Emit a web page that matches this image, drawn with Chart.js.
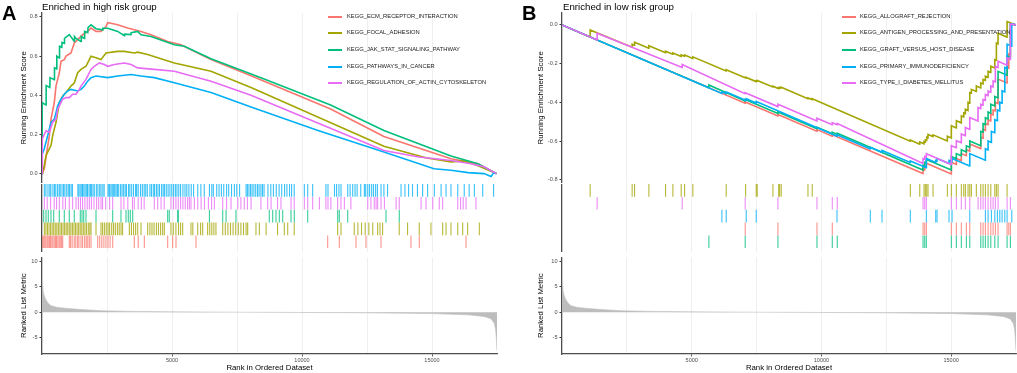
<!DOCTYPE html>
<html>
<head>
<meta charset="utf-8">
<script src="https://cdn.jsdelivr.net/npm/chart.js@4.4.1/dist/chart.umd.min.js"></script>
<style>
  body { margin: 0; background: #fff; font-family: 'Liberation Sans', Arial, sans-serif; }
  #wrap { position: relative; width: 1017px; height: 373px; overflow: hidden; background: #fff; }
  .pane { position: absolute; }
  .txt { position: absolute; white-space: nowrap; color: #000; line-height: 1; }
  .key { position: absolute; height: 2px; }
  .lab { position: absolute; white-space: nowrap; font-size: 5.8px; line-height: 1; color: #1a1a1a; }
</style>
</head>
<body>
<div id="wrap">
  <div class="pane" style="left:0;top:0"><canvas id="aTop" width="510" height="188"></canvas></div>
  <div class="pane" style="left:0;top:184px"><canvas id="aRug" width="510" height="68"></canvas></div>
  <div class="pane" style="left:0;top:252px"><canvas id="aMetric" width="510" height="121"></canvas></div>
  <div class="pane" style="left:508px;top:0"><canvas id="bTop" width="509" height="188"></canvas></div>
  <div class="pane" style="left:508px;top:184px"><canvas id="bRug" width="509" height="68"></canvas></div>
  <div class="pane" style="left:508px;top:252px"><canvas id="bMetric" width="509" height="121"></canvas></div>

  <div class="txt" style="left:2px;top:3.4px;font-size:20px;font-weight:bold">A</div>
  <div class="txt" style="left:522px;top:3.4px;font-size:20px;font-weight:bold">B</div>
  <div class="txt" style="left:42px;top:1.8px;font-size:9.7px">Enriched in high risk group</div>
  <div class="txt" style="left:563px;top:1.8px;font-size:9.7px">Enriched in low risk group</div>
  <div id="legA"></div>
  <div id="legB"></div>
</div>
<script>
// gene set colours (ggplot default hue palette)
const colRed = '#F8766D', colOlive = '#A3A500', colGreen = '#00BF7D', colBlue = '#00B0F6', colPink = '#E76BF3';

const rankMax = 17500;
const gridTicks = [2500, 5000, 7500, 10000, 12500, 15000];
const esTicksA = [0, 0.2, 0.4, 0.6, 0.8];
const esTicksB = [-0.8, -0.6, -0.4, -0.2, 0];
const metricTicks = [-5, 0, 5, 10];

const namesA = ['KEGG_ECM_RECEPTOR_INTERACTION', 'KEGG_FOCAL_ADHESION', 'KEGG_JAK_STAT_SIGNALING_PATHWAY', 'KEGG_PATHWAYS_IN_CANCER', 'KEGG_REGULATION_OF_ACTIN_CYTOSKELETON'];
const namesB = ['KEGG_ALLOGRAFT_REJECTION', 'KEGG_ANTIGEN_PROCESSING_AND_PRESENTATION', 'KEGG_GRAFT_VERSUS_HOST_DISEASE', 'KEGG_PRIMARY_IMMUNODEFICIENCY', 'KEGG_TYPE_I_DIABETES_MELLITUS'];

// ---------- A: running enrichment score ----------
const ecmRank = [0, 88, 282, 346, 474, 538, 667, 731, 859, 923, 1115, 1244, 1372, 1564, 1757, 1884, 2077, 2269, 2462, 2526, 2654, 2911, 3296, 3808, 4192, 4834, 5346, 6500, 8038, 11100, 13150, 15730, 16770, 17480];
const ecmES = [0, 0.025, 0.194, 0.278, 0.363, 0.447, 0.515, 0.574, 0.582, 0.60, 0.616, 0.667, 0.684, 0.709, 0.726, 0.743, 0.726, 0.726, 0.751, 0.771, 0.768, 0.76, 0.743, 0.726, 0.709, 0.675, 0.658, 0.582, 0.50, 0.33, 0.19, 0.076, 0.05, 0];

const focalRank = [0, 26, 88, 154, 218, 346, 410, 538, 667, 795, 923, 1115, 1244, 1372, 1500, 1692, 1884, 2077, 2269, 2462, 2911, 3167, 3551, 3680, 4064, 5090, 6500, 8038, 13150, 14800, 15730, 16240, 16770, 17480];
const focalES = [0, 0.008, 0.042, 0.093, 0.11, 0.143, 0.194, 0.262, 0.363, 0.397, 0.414, 0.447, 0.464, 0.515, 0.532, 0.548, 0.599, 0.591, 0.582, 0.616, 0.624, 0.624, 0.616, 0.62, 0.608, 0.565, 0.523, 0.44, 0.14, 0.08, 0.06, 0.065, 0.04, 0];

const jakRank = [0, 5, 154, 160, 300, 310, 474, 480, 560, 570, 667, 675, 760, 770, 859, 865, 1051, 1244, 1250, 1308, 1500, 1510, 1628, 1640, 1760, 1770, 1884, 2077, 2333, 2340, 2526, 2911, 3167, 3175, 3423, 3430, 3680, 3808, 4192, 5090, 5474, 6500, 8420, 11100, 13150, 15730, 16770, 17480];
const jakES = [0, 0.363, 0.35, 0.45, 0.44, 0.49, 0.48, 0.54, 0.535, 0.60, 0.59, 0.65, 0.645, 0.67, 0.665, 0.69, 0.71, 0.675, 0.70, 0.69, 0.675, 0.70, 0.69, 0.726, 0.72, 0.745, 0.76, 0.74, 0.734, 0.742, 0.742, 0.726, 0.704, 0.712, 0.71, 0.72, 0.726, 0.709, 0.70, 0.658, 0.65, 0.586, 0.49, 0.35, 0.22, 0.09, 0.05, 0];

const cancerRank = [0, 10, 88, 218, 346, 474, 603, 731, 859, 987, 1115, 1372, 1500, 1628, 1757, 1884, 2077, 2526, 2911, 3423, 3808, 4320, 5090, 6500, 8038, 10615, 13150, 15077, 15731, 16385, 17000, 17270, 17380, 17480];
const cancerES = [0, 0.10, 0.127, 0.194, 0.262, 0.278, 0.346, 0.38, 0.405, 0.422, 0.43, 0.422, 0.43, 0.447, 0.472, 0.49, 0.498, 0.49, 0.498, 0.506, 0.498, 0.49, 0.464, 0.414, 0.34, 0.22, 0.11, 0.025, 0.017, 0.005, 0, -0.015, 0.005, 0];

const actinRank = [0, 10, 154, 282, 410, 538, 603, 667, 795, 923, 1051, 1179, 1308, 1436, 1500, 1692, 1884, 2013, 2205, 2397, 2526, 2782, 3167, 3423, 3680, 4320, 5090, 6500, 8038, 13150, 14500, 15730, 16500, 17000, 17480];
const actinES = [0, 0.177, 0.219, 0.211, 0.262, 0.278, 0.329, 0.346, 0.38, 0.388, 0.388, 0.405, 0.405, 0.43, 0.447, 0.481, 0.532, 0.548, 0.565, 0.557, 0.548, 0.557, 0.565, 0.557, 0.54, 0.532, 0.523, 0.472, 0.40, 0.118, 0.085, 0.067, 0.05, 0.035, 0];

// A: gene set hits along the ranked list
const cancerHits = [90, 150, 230, 300, 340, 420, 480, 530, 600, 660, 700, 770, 830, 880, 950, 1010, 1060, 1120, 1170,
  1380, 1420, 1470, 1530, 1560, 1610, 1660, 1720, 1750, 1810, 1860, 1900, 1960, 2010, 2090, 2150, 2220, 2270, 2340, 2390,
  2540, 2580, 2610, 2660, 2720, 2760, 2800, 2850, 2900, 2950, 3020, 3080, 3140, 3200, 3250, 3330, 3380, 3450, 3520, 3600, 3640, 3700, 3790, 3860, 3930, 3990, 4050,
  4150, 4210, 4280, 4330, 4400, 4460, 4520, 4600, 4660, 4710, 4780, 4850, 4920, 4990, 5060, 5130, 5190, 5260, 5330, 5420, 5500, 5570, 5650, 5740, 5830,
  5990, 6110, 6240, 6440, 6530, 6590, 6720, 6810, 6900, 6990, 7100, 7180, 7290, 7400, 7490, 7600,
  7850, 7900, 7960, 8020, 8080, 8150, 8220, 8290, 8350, 8420, 8480, 8540, 8690, 8800, 8900, 9010, 9120, 9220, 9330, 9420, 9520, 9600, 9700,
  10090, 10220, 10410, 10920, 11000, 11250, 11330, 11420, 11500, 11760, 11850, 11950, 12040, 12120, 12260,
  12400, 12450, 12530, 12600, 12680, 12750, 12830, 12900, 13040, 13150, 13290, 13810, 13960, 14100, 14250, 14440,
  14640, 14830, 15090, 15350, 15540, 15730, 15990, 16240, 16430, 16630, 16950, 17370];
const actinHits = [90, 200, 330, 470, 560, 667, 800, 900, 1050, 1179, 1310, 1400, 1480, 1560, 1650, 1740, 1820, 1900, 2000, 2100, 2180, 2270, 2330, 2450, 2600, 2718,
  3040, 3150, 3300, 3480, 3550, 3700, 3820, 3930, 4320, 4450, 4580, 4700, 4960, 5060, 5150, 5240, 5330, 5420, 5510, 5600, 5670, 5730, 5860, 5990, 6120, 6250, 6400, 6520, 6630,
  6950, 7100, 7270, 7530, 7650, 7780, 7900, 8040, 8420, 8680, 8810, 9060, 9190, 9580, 9700, 10090, 10220, 10410, 10670, 10920, 11000, 11110, 11370, 11500, 11630, 11880,
  12530, 12650, 12780, 12850, 12910, 13040, 13170, 13620, 13740, 14580, 14770, 15030, 15280, 15410, 15990, 16100, 16200, 16310, 16690];
const jakHits = [65, 154, 242, 346, 450, 665, 858, 1050, 1242, 1473, 1538, 1604, 1692, 2077, 2719, 3038, 3231, 3319, 3396, 3488, 4834, 4896, 5219, 5242,
  6440, 6950, 7080, 7460, 8742, 8873, 9000, 9127, 9258, 9577, 9704, 10219, 11373, 11435, 11758, 13231, 13742];
const focalHits = [90, 150, 210, 270, 330, 390, 450, 510, 570, 630, 690, 750, 810, 870, 930, 990, 1050, 1110, 1170, 1230, 1290, 1350, 1410, 1470, 1530, 1590, 1650, 1710, 1780, 1840, 1885,
  2077, 2269, 2330, 2400, 2470, 2540, 2600, 2680, 2750, 2820, 2900, 2970, 3040, 3100, 3360, 3440, 3520, 3600, 3680, 3808, 4064, 4150, 4230, 4310, 4400, 4480, 4560, 4640, 4705,
  4960, 5050, 5150, 5250, 5330, 5410, 5730, 5800, 5990, 6100, 6180, 6370, 6450, 6530, 6610, 6690, 6950, 7050, 7150, 7250, 7350, 7450, 7550, 7650, 7750, 7850, 7910,
  8230, 8360, 8620, 9060, 9320, 9450, 9700, 11370, 11500, 12010, 12150, 12290, 12430, 12570, 12720, 12910, 13000, 13100, 13740, 14060, 14510, 14960, 15410, 15540, 15730, 15990, 16180, 16370, 16820];
const ecmHits = [26, 70, 110, 150, 200, 240, 290, 330, 380, 420, 470, 520, 560, 610, 660, 700, 750, 796, 1050, 1100, 1160, 1240, 1300, 1370, 1420, 1500, 1560, 1640, 1700, 1760, 1820, 1885,
  2142, 2220, 2300, 2380, 2460, 2540, 2620, 2719, 3550, 3700, 3936, 4834, 5025, 5154, 5923, 10988, 11435, 12077, 12461, 13038, 14192, 14511, 16307];

// ---------- B: running enrichment score ----------
const allograftRank = [0, 7059, 7062, 8321, 8324, 9825, 9828, 10416, 10419, 13914, 13917, 13979, 13982, 14041, 14044, 15005, 15008, 15198, 15201, 15390, 15393, 15584, 15587, 15715, 15718, 16139, 16142, 16228, 16231, 16317, 16320, 16421, 16424, 16525, 16528, 16614, 16617, 16702, 16705, 16806, 16809, 17154, 17157, 17219, 17222, 17281, 17284, 17500];
const allograftES = [0, -0.405, -0.398, -0.47, -0.463, -0.549, -0.541, -0.575, -0.568, -0.768, -0.745, -0.749, -0.73, -0.733, -0.715, -0.77, -0.71, -0.721, -0.69, -0.701, -0.665, -0.676, -0.645, -0.652, -0.615, -0.639, -0.58, -0.585, -0.54, -0.545, -0.51, -0.516, -0.49, -0.496, -0.46, -0.465, -0.44, -0.445, -0.40, -0.406, -0.28, -0.30, -0.22, -0.224, -0.15, -0.153, 0.005, 0];

const antigenRank = [0, 1082, 1085, 2701, 2704, 2794, 2797, 3346, 3349, 3989, 3992, 4271, 4274, 4591, 4594, 4722, 4725, 5042, 5045, 6327, 6330, 7075, 7078, 7484, 7487, 7522, 7525, 8128, 8131, 8348, 8351, 8386, 8389, 8448, 8451, 9478, 9481, 9643, 9646,
  13424, 13427, 13786, 13789, 13952, 13955, 14002, 14005, 14056, 14059, 14106, 14109, 14299, 14302, 14851, 14854, 15005, 15008, 15198, 15201, 15390, 15393, 15483, 15486, 15545, 15548, 15649, 15652, 15715, 15718, 15776, 15779, 15969, 15972,
  16139, 16142, 16228, 16231, 16317, 16320, 16421, 16424, 16525, 16528, 16680, 16683, 16741, 16744, 16806, 16809, 17154, 17157, 17500];
const antigenES = [0, -0.064, -0.026, -0.115, -0.100, -0.105, -0.090, -0.121, -0.108, -0.144, -0.136, -0.152, -0.145, -0.163, -0.155, -0.162, -0.155, -0.173, -0.165, -0.238, -0.232, -0.274, -0.270, -0.293, -0.289, -0.291, -0.287, -0.321, -0.317, -0.329, -0.325, -0.327, -0.323, -0.326, -0.322, -0.381, -0.377, -0.386, -0.382,
  -0.601, -0.595, -0.616, -0.605, -0.614, -0.603, -0.606, -0.594, -0.597, -0.580, -0.583, -0.566, -0.577, -0.568, -0.60, -0.575, -0.584, -0.521, -0.532, -0.495, -0.506, -0.470, -0.475, -0.455, -0.459, -0.436, -0.442, -0.40, -0.404, -0.35, -0.353, -0.333, -0.344, -0.316,
  -0.326, -0.30, -0.305, -0.282, -0.287, -0.265, -0.271, -0.24, -0.246, -0.214, -0.223, -0.18, -0.183, -0.094, -0.098, -0.043, -0.063, 0.017, 0];

const graftRank = [0, 5659, 5662, 7059, 7062, 8321, 8324, 9825, 9828, 10416, 10419, 10608, 10611, 13914, 13917, 13979, 13982, 14041, 14044, 15005, 15008, 15198, 15201, 15390, 15393, 15584, 15587, 15715, 15718, 16139, 16142, 16228, 16231, 16317, 16320, 16421, 16424, 16525, 16528, 16680, 16683, 16806, 16809, 17154, 17157, 17281, 17284, 17500];
const graftES = [0, -0.325, -0.31, -0.393, -0.385, -0.458, -0.45, -0.536, -0.528, -0.562, -0.555, -0.566, -0.56, -0.75, -0.725, -0.729, -0.71, -0.713, -0.695, -0.75, -0.68, -0.691, -0.665, -0.676, -0.645, -0.656, -0.625, -0.632, -0.60, -0.624, -0.55, -0.555, -0.51, -0.515, -0.48, -0.486, -0.45, -0.456, -0.41, -0.419, -0.37, -0.377, -0.24, -0.26, -0.16, -0.167, 0.005, 0];

const immunoRank = [0, 6161, 6164, 6327, 6330, 7099, 7102, 7484, 7487, 10597, 10600, 11882, 11885, 12333, 12336, 13424, 13427, 14041, 14044, 14403, 14406, 14454, 14457, 14916, 14919, 15032, 15035, 15715, 15718, 16317, 16320, 16421, 16424, 16549, 16552, 16680, 16683, 16779, 16782, 16872, 16875, 16961, 16964, 17065, 17068, 17154, 17157, 17334, 17337, 17500];
const immunoES = [0, -0.354, -0.345, -0.355, -0.346, -0.39, -0.382, -0.404, -0.396, -0.575, -0.567, -0.641, -0.632, -0.658, -0.649, -0.711, -0.703, -0.738, -0.69, -0.711, -0.70, -0.703, -0.69, -0.716, -0.70, -0.706, -0.69, -0.729, -0.665, -0.699, -0.64, -0.646, -0.60, -0.607, -0.55, -0.557, -0.49, -0.495, -0.44, -0.445, -0.40, -0.405, -0.34, -0.346, -0.22, -0.225, -0.10, -0.11, 0.005, 0];

const diabetesRank = [0, 1351, 1354, 4630, 4633, 7059, 7062, 8321, 8324, 9825, 9828, 10416, 10419, 10608, 10611, 13914, 13917, 13979, 13982, 14041, 14044, 15005, 15008, 15198, 15201, 15390, 15393, 15545, 15548, 15715, 15718, 16035, 16038, 16139, 16142, 16228, 16231, 16317, 16320, 16421, 16424, 16525, 16528, 16614, 16617, 16702, 16705, 16806, 16809, 17154, 17157, 17281, 17284, 17500];
const diabetesES = [0, -0.078, -0.043, -0.22, -0.205, -0.356, -0.350, -0.422, -0.41, -0.496, -0.482, -0.516, -0.505, -0.516, -0.51, -0.716, -0.69, -0.694, -0.68, -0.683, -0.666, -0.721, -0.624, -0.635, -0.598, -0.609, -0.564, -0.573, -0.53, -0.54, -0.479, -0.497, -0.427, -0.433, -0.41, -0.415, -0.385, -0.39, -0.36, -0.366, -0.342, -0.348, -0.316, -0.321, -0.29, -0.295, -0.214, -0.22, -0.188, -0.208, -0.171, -0.178, 0.005, 0];

// B: gene set hits
const antigenHits = [1085, 2704, 2797, 3349, 3992, 4274, 4594, 4725, 5045, 6330, 7078, 7487, 7525, 8131, 8351, 8389, 8451, 9481, 9646, 13427, 13789, 13955, 14005, 14059, 14109, 14302, 14854, 15008, 15201, 15393, 15486, 15548, 15652, 15718, 15779, 15972, 16142, 16231, 16320, 16424, 16528, 16683, 16744, 16809, 17157];
const diabetesHits = [1354, 4633, 7062, 8324, 9828, 10419, 10611, 13917, 13982, 14044, 15008, 15201, 15393, 15548, 15718, 16038, 16142, 16231, 16320, 16424, 16528, 16617, 16705, 16809, 17157, 17284];
const immunoHits = [6164, 6330, 7102, 7487, 10600, 11885, 12336, 13427, 14044, 14406, 14457, 14919, 15035, 15718, 16320, 16424, 16552, 16683, 16782, 16875, 16964, 17068, 17157, 17337];
const allograftHits = [7062, 8324, 9828, 10419, 13917, 13982, 14044, 15008, 15201, 15393, 15587, 15718, 16142, 16231, 16320, 16424, 16528, 16617, 16705, 16809, 17157, 17222, 17284];
const graftHits = [5662, 7062, 8324, 9828, 10419, 10611, 13917, 13982, 14044, 15008, 15201, 15393, 15587, 15718, 16142, 16231, 16320, 16424, 16528, 16683, 16809, 17157, 17284];

// ranked list metric (same ranked list in both panels)
const metricRank = [1, 30, 65, 110, 154, 250, 346, 600, 987, 1500, 2269, 3500, 4846, 7500, 10000, 12500, 15000, 16380, 17000, 17270, 17400, 17450, 17480, 17500];
const metricValue = [5.2, 4.6, 3.6, 2.9, 2.4, 1.7, 1.3, 0.95, 0.75, 0.55, 0.3, 0.18, 0.1, 0.02, -0.03, -0.1, -0.25, -0.5, -0.8, -1.25, -2.2, -3.5, -5.5, -7.5];

Chart.defaults.font.family = "'Liberation Sans', Arial, sans-serif";
Chart.defaults.animation = false;

function pts(xs, ys) { return xs.map((x, i) => ({x: x, y: ys[i]})); }

function gridX() {
  return {
    type: 'linear', min: 0, max: rankMax,
    afterBuildTicks: s => { s.ticks = gridTicks.map(v => ({value: v})); },
    grid: { color: '#ebebeb', lineWidth: 0.8, drawTicks: false },
    border: { display: false },
    ticks: { display: false },
    afterFit: s => { s.height = 0; }
  };
}

function leftY(min, max, tickVals, fmt, title, axisW, titlePad) {
  return {
    min: min, max: max,
    afterBuildTicks: s => { s.ticks = tickVals.map(v => ({value: v})); },
    grid: { drawOnChartArea: false, tickLength: 2.5, tickColor: '#333' },
    border: { color: '#4d4d4d', width: 1.3 },
    ticks: { padding: 2, color: '#4d4d4d', font: { size: 5.6 }, callback: fmt },
    title: { display: true, text: title, color: '#000', font: { size: 7.8 }, padding: { top: titlePad, bottom: 0 } },
    afterFit: s => { s.width = axisW; }
  };
}

const noPlugins = { legend: { display: false }, tooltip: { enabled: false } };

function esChart(id, sets, min, max, tickVals, axisW, titlePad, rightPad) {
  new Chart(document.getElementById(id), {
    type: 'scatter',
    data: {
      datasets: sets.map((s, i) => ({
        data: pts(s[0], s[1]), showLine: true, borderColor: s[2], borderWidth: 1.6,
        pointRadius: 0, tension: 0, order: sets.length - i
      }))
    },
    options: {
      responsive: false, devicePixelRatio: 1, events: [],
      layout: { autoPadding: false, padding: { left: 0, right: rightPad, top: 13, bottom: 4 } },
      plugins: noPlugins,
      scales: {
        x: gridX(),
        y: leftY(min, max, tickVals, v => v.toFixed(1), 'Running Enrichment Score', axisW, titlePad)
      }
    }
  });
}

function rugChart(id, rows, axisW, rightPad) {
  new Chart(document.getElementById(id), {
    type: 'scatter',
    data: {
      datasets: rows.map((r, i) => ({
        data: r[0].map(v => ({x: v, y: i + 0.5})), showLine: false,
        pointStyle: 'line', pointRotation: 90, pointRadius: 6.3,
        pointBorderColor: r[1] + 'C8', pointBorderWidth: 1.1, pointBackgroundColor: r[1]
      }))
    },
    options: {
      responsive: false, devicePixelRatio: 1, events: [],
      layout: { autoPadding: false, padding: { left: 0, right: rightPad, top: 0, bottom: 0 } },
      plugins: noPlugins,
      scales: {
        x: gridX(),
        y: { min: 0, max: 5.3, reverse: true, ticks: { display: false }, grid: { display: false },
             border: { color: '#4d4d4d', width: 1.3 }, afterFit: s => { s.width = axisW; } }
      }
    }
  });
}

function metricChart(id, axisW, titlePad, rightPad) {
  new Chart(document.getElementById(id), {
    type: 'scatter',
    data: {
      datasets: [{
        data: pts(metricRank, metricValue), showLine: true, fill: 'origin',
        backgroundColor: '#bdbdbd', borderColor: '#bdbdbd', borderWidth: 0.6, pointRadius: 0
      }]
    },
    options: {
      responsive: false, devicePixelRatio: 1, events: [],
      layout: { autoPadding: false, padding: { left: 0, right: rightPad, top: 0, bottom: 0 } },
      plugins: noPlugins,
      scales: {
        x: {
          type: 'linear', min: 0, max: rankMax,
          afterBuildTicks: s => { s.ticks = gridTicks.map(v => ({value: v})); },
          grid: { color: '#ebebeb', lineWidth: 0.8, tickLength: 2.5,
                  tickColor: c => (c.tick && c.tick.value % 5000 === 0) ? '#333' : 'rgba(0,0,0,0)' },
          border: { color: '#4d4d4d', width: 1.3 },
          ticks: { autoSkip: false, maxRotation: 0, padding: 1, color: '#4d4d4d', font: { size: 5.5 },
                   callback: v => v % 5000 === 0 ? String(v) : '' },
          title: { display: true, text: 'Rank in Ordered Dataset', color: '#000', font: { size: 7.8 }, padding: { top: 0, bottom: 0 } },
          afterFit: s => { s.height = 19; }
        },
        y: leftY(-8.15, 10.74, metricTicks, v => String(v), 'Ranked List Metric', axisW, titlePad)
      }
    }
  });
}

// Panel A
esChart('aTop', [
  [ecmRank, ecmES, colRed], [focalRank, focalES, colOlive], [jakRank, jakES, colGreen],
  [cancerRank, cancerES, colBlue], [actinRank, actinES, colPink]
], -0.046, 0.82, esTicksA, 42, 19.3, 13);
rugChart('aRug', [[cancerHits, colBlue], [actinHits, colPink], [jakHits, colGreen], [focalHits, colOlive], [ecmHits, colRed]], 42, 13);
metricChart('aMetric', 42, 19.3, 13);

// Panel B
esChart('bTop', [
  [allograftRank, allograftES, colRed], [antigenRank, antigenES, colOlive], [graftRank, graftES, colGreen],
  [immunoRank, immunoES, colBlue], [diabetesRank, diabetesES, colPink]
], -0.815, 0.0615, esTicksB, 54, 28.3, 1);
rugChart('bRug', [[antigenHits, colOlive], [diabetesHits, colPink], [immunoHits, colBlue], [allograftHits, colRed], [graftHits, colGreen]], 54, 1);
metricChart('bMetric', 54, 28.3, 1);

// legends (inside the top panels)
function legend(el, names, cols, keyX, textX) {
  const rowsY = [16.7, 33.3, 50, 66.7, 83.3];
  let html = '';
  names.forEach((n, i) => {
    html += '<div class="key" style="left:' + keyX + 'px;top:' + (rowsY[i] - 1) + 'px;width:14px;background:' + cols[i] + '"></div>';
    html += '<div class="lab" style="left:' + textX + 'px;top:' + (rowsY[i] - 3.2) + 'px">' + n + '</div>';
  });
  document.getElementById(el).innerHTML = html;
}
const legendCols = [colRed, colOlive, colGreen, colBlue, colPink];
legend('legA', namesA, legendCols, 328, 347);
legend('legB', namesB, legendCols, 842, 860);
</script>
</body>
</html>
